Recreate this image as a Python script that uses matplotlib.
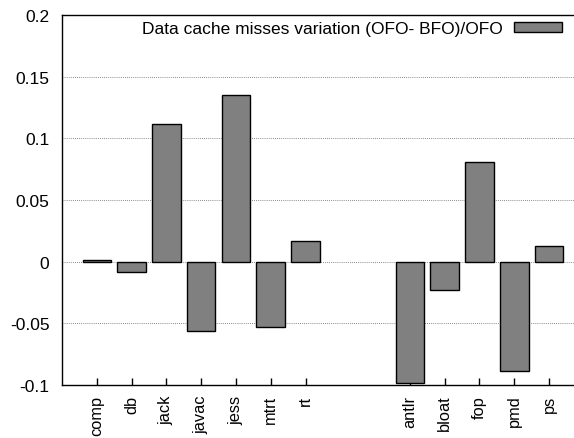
import numpy as np
import matplotlib.pyplot as plt

plt.rcParams['font.family'] = ['Liberation Sans', 'DejaVu Sans']

# SPECjvm98 group, then DaCapo group (gap of two slots between them)
benchmarks = ['comp', 'db', 'jack', 'javac', 'jess', 'mtrt', 'rt',
              'antlr', 'bloat', 'fop', 'pmd', 'ps']
positions = [0, 1, 2, 3, 4, 5, 6, 9, 10, 11, 12, 13]
variation = [0.001, -0.008, 0.112, -0.056, 0.135, -0.053, 0.017,
             -0.098, -0.023, 0.081, -0.089, 0.013]
yticks = [-0.1, -0.05, 0, 0.05, 0.1, 0.15, 0.2]
ytick_labels = ['-0.1', '-0.05', '0', '0.05', '0.1', '0.15', '0.2']

fs = 12.5

fig = plt.figure(figsize=(5.74, 4.39), dpi=100)
ax = fig.add_axes([62 / 574, 1 - 386 / 439, 1.0 - 62 / 574 + 0.002, 370 / 439])

ax.bar(positions, variation, width=0.82, color='#808080', edgecolor='black',
       linewidth=1.0, label='Data cache misses variation (OFO- BFO)/OFO', zorder=3)

ax.set_xlim(-1, 13.75)
ax.set_ylim(-0.1, 0.2)
ax.set_yticks(yticks)
ax.set_yticklabels(ytick_labels, fontsize=fs)
ax.set_xticks(positions)
ax.set_xticklabels(benchmarks, rotation=90, fontsize=11.8)

ax.yaxis.grid(True, linestyle=(0, (1, 1.5)), color='#666666', linewidth=0.6)
ax.set_axisbelow(True)
ax.tick_params(axis='x', direction='in', length=5, width=1, pad=7)
ax.tick_params(axis='y', direction='in', length=0, pad=9)
ax.spines['right'].set_visible(False)
for s in ('left', 'top', 'bottom'):
    ax.spines[s].set_linewidth(1.0)

ax.legend(loc='upper right', frameon=False, markerfirst=False, fontsize=fs,
          handlelength=2.76, handleheight=0.52, handletextpad=0.63,
          borderpad=0, borderaxespad=0,
          bbox_to_anchor=(562 / 574, 1 - 22 / 439), bbox_transform=fig.transFigure)

fig.savefig('out.png', dpi=100)
